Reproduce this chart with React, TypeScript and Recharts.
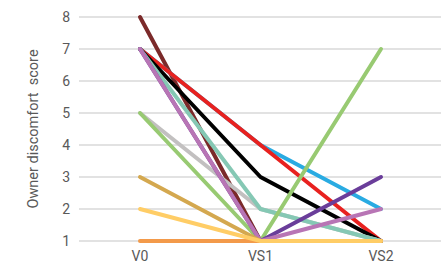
import * as React from "react"
import { LineChart, Line, XAxis, YAxis, CartesianGrid, Label } from "recharts"

// ── Data ──────────────────────────────────────────────────────
const VISITS = ["V0", "VS1", "VS2"]
const Y_TICKS = [1, 2, 3, 4, 5, 6, 7, 8]

// one array per owner, scores at V0 / VS1 / VS2
const OWNER_A = [8, 1, 1]
const OWNER_B = [7, 4, 2]
const OWNER_C = [7, 4, 1]
const OWNER_D = [7, 3, 1]
const OWNER_E = [5, 2, 1]
const OWNER_F = [7, 2, 1]
const OWNER_G = [5, 1, 7]
const OWNER_H = [7, 1, 3]
const OWNER_I = [7, 1, 2]
const OWNER_J = [3, 1, 1]
const OWNER_K = [1, 1, 1]
const OWNER_L = [2, 1, 1]

const SERIES = [
  { key: "a", values: OWNER_A, colour: "#7B2A2A" },
  { key: "b", values: OWNER_B, colour: "#29ABE2" },
  { key: "c", values: OWNER_C, colour: "#E8211F" },
  { key: "d", values: OWNER_D, colour: "#000000" },
  { key: "e", values: OWNER_E, colour: "#C2C0C0" },
  { key: "f", values: OWNER_F, colour: "#85C8B4" },
  { key: "g", values: OWNER_G, colour: "#98CA72" },
  { key: "h", values: OWNER_H, colour: "#6A3D9A" },
  { key: "i", values: OWNER_I, colour: "#B875B5" },
  { key: "j", values: OWNER_J, colour: "#D4A84F" },
  { key: "k", values: OWNER_K, colour: "#F39A4A" },
  { key: "l", values: OWNER_L, colour: "#FFCD66" },
]

const data = VISITS.map((v, i) => {
  const row: Record<string, string | number> = { visit: v }
  SERIES.forEach((s) => { row[s.key] = s.values[i] })
  return row
})

const TICK = { fontFamily: "'Roboto', sans-serif", fontSize: 14, fill: "#595959" }

export default function App() {
  return (
    <div style={{ position: "absolute", left: 0, top: 0, background: "#fff" }}>
      <LineChart width={444} height={268} data={data} margin={{ top: 17, right: 3, bottom: 0, left: 0 }}>
        <CartesianGrid vertical={false} stroke="#D9D9D9" strokeWidth={1.5} />
        <XAxis
          dataKey="visit"
          tick={TICK}
          axisLine={false}
          tickLine={false}
          height={27}
          padding={{ left: 61, right: 60 }}
          dy={2}
        />
        <YAxis
          domain={[1, 8]}
          ticks={Y_TICKS}
          tick={TICK}
          axisLine={false}
          tickLine={false}
          width={79}
          dx={-1}
        >
          <Label
            value={"Owner discomfort\u00a0\u00a0score"}
            angle={-90}
            position="insideLeft"
            offset={33}
            style={{ textAnchor: "middle", fontFamily: "'Roboto', sans-serif", fontSize: 14.5, fill: "#595959" }}
          />
        </YAxis>
        {SERIES.map((s) => (
          <Line
            key={s.key}
            type="linear"
            dataKey={s.key}
            stroke={s.colour}
            strokeWidth={4}
            strokeLinecap="round"
            strokeLinejoin="round"
            dot={false}
            activeDot={false}
            isAnimationActive={false}
          />
        ))}
      </LineChart>
    </div>
  )
}
